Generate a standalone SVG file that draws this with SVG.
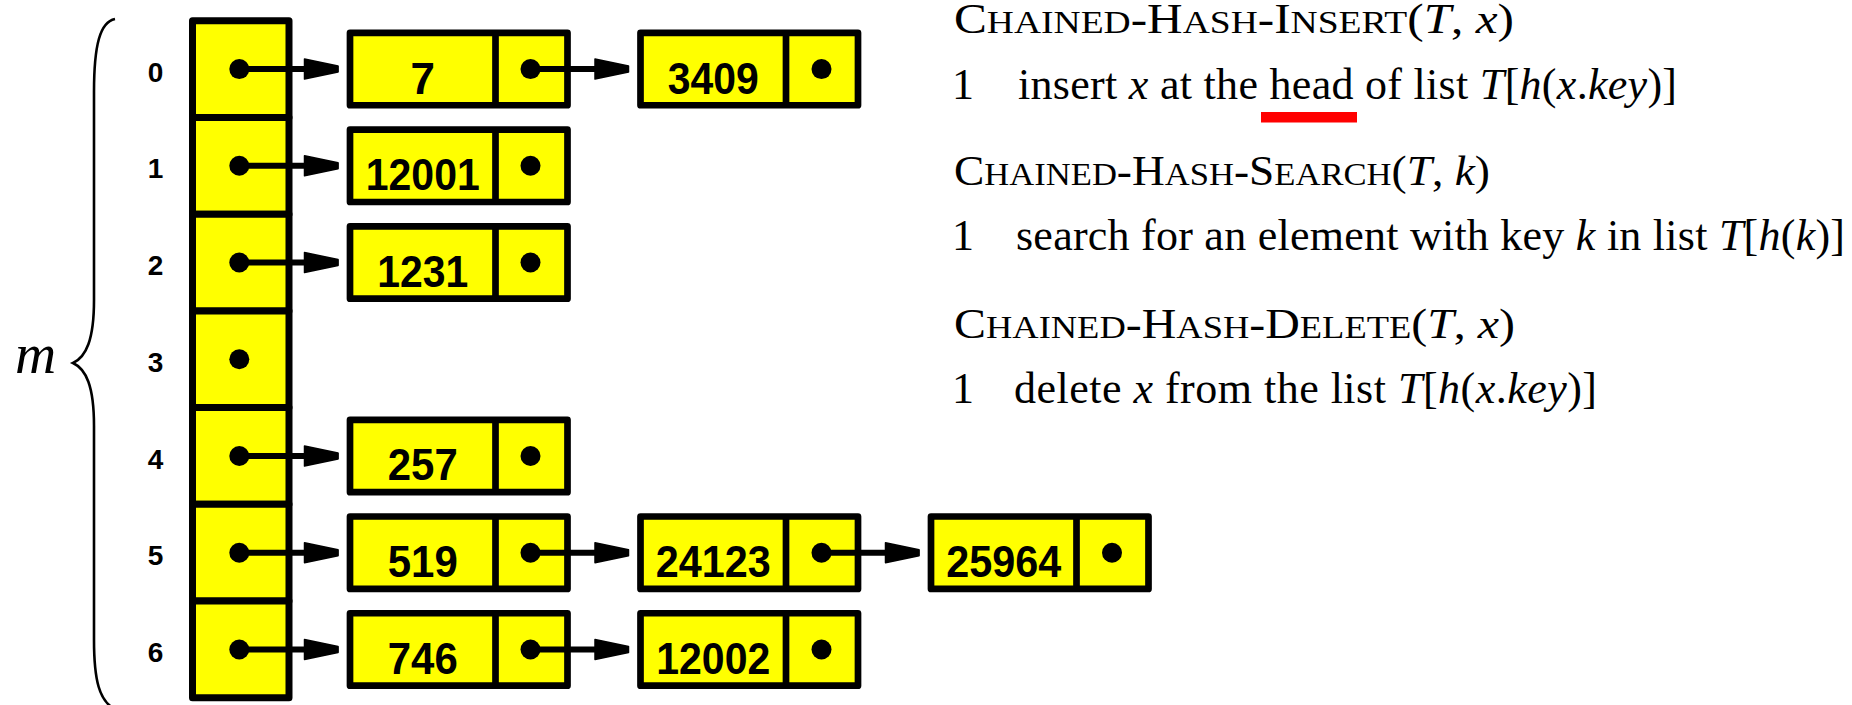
<svg xmlns="http://www.w3.org/2000/svg" width="1852" height="705" viewBox="0 0 1852 705">
  <defs>
    <style>
      .slot{fill:#ffff00;stroke:#000;stroke-width:7;stroke-linejoin:round}
      .cell{fill:#ffff00;stroke:#000;stroke-width:6.7;stroke-linejoin:round}
      .div{stroke:#000;stroke-width:6.7}
      .dot{fill:#000}
      .key{font-family:"Liberation Sans",Arial,sans-serif;font-weight:bold;font-size:44px;text-anchor:middle;fill:#000}
      .idx{font-family:"Liberation Sans",Arial,sans-serif;font-weight:bold;font-size:28px;text-anchor:middle;fill:#000}
      .link{fill:none;stroke:#000;stroke-width:6;marker-end:url(#head)}
      .serif{font-family:"Liberation Serif","Times New Roman",serif;fill:#000}
      .title{font-size:42px}
      .sc{font-size:32px}
      .body{font-size:44px}
      .it{font-style:italic}
    </style>
    <marker id="head" markerUnits="userSpaceOnUse" markerWidth="40" markerHeight="30" viewBox="-1 -15 40 30" refX="35" refY="0" orient="auto">
      <path d="M1,-10 L34.5,-3 L34.5,3 L1,10 Z" fill="#000" stroke="#000" stroke-width="1.5" stroke-linejoin="round"/>
    </marker>
  </defs>

  <rect width="1852" height="705" fill="#fff"/>

  <!-- brace and table size label -->
  <g id="size-label">
    <path d="M115,19 C100,22 94,45 94,92 L94,300 C94,340 86,357 73,363 C86,369 94,386 94,426 L94,640 C94,682 100,700 113,708" fill="none" stroke="#000" stroke-width="2.6"/>
    <text class="serif it" x="15" y="373" font-size="57">m</text>
  </g>

  <!-- hash table slots -->
  <g id="slot-0"><rect class="slot" x="192.5" y="20.7" width="96.5" height="96.73"/><circle class="dot" cx="239.3" cy="69.07" r="10"/><text class="idx" x="155.5" y="81.7">0</text></g>
  <g id="slot-1"><rect class="slot" x="192.5" y="117.43" width="96.5" height="96.73"/><circle class="dot" cx="239.3" cy="165.8" r="10"/><text class="idx" x="155.5" y="178.4">1</text></g>
  <g id="slot-2"><rect class="slot" x="192.5" y="214.16" width="96.5" height="96.73"/><circle class="dot" cx="239.3" cy="262.52" r="10"/><text class="idx" x="155.5" y="275.1">2</text></g>
  <g id="slot-3"><rect class="slot" x="192.5" y="310.89" width="96.5" height="96.73"/><circle class="dot" cx="239.3" cy="359.25" r="10"/><text class="idx" x="155.5" y="371.9">3</text></g>
  <g id="slot-4"><rect class="slot" x="192.5" y="407.62" width="96.5" height="96.73"/><circle class="dot" cx="239.3" cy="455.99" r="10"/><text class="idx" x="155.5" y="468.6">4</text></g>
  <g id="slot-5"><rect class="slot" x="192.5" y="504.35" width="96.5" height="96.73"/><circle class="dot" cx="239.3" cy="552.72" r="10"/><text class="idx" x="155.5" y="565.3">5</text></g>
  <g id="slot-6"><rect class="slot" x="192.5" y="601.08" width="96.5" height="96.73"/><circle class="dot" cx="239.3" cy="649.45" r="10"/><text class="idx" x="155.5" y="662.1">6</text></g>

  <!-- list elements: key cell + next-pointer cell -->
  <g id="node-7"><rect class="cell" x="350" y="32.87" width="217.5" height="72.4"/><line class="div" x1="495.5" y1="32.87" x2="495.5" y2="105.27"/><text class="key" x="422.75" y="93.57">7</text><circle class="dot" cx="530.5" cy="69.07" r="10"/></g>
  <g id="node-12001"><rect class="cell" x="350" y="129.6" width="217.5" height="72.4"/><line class="div" x1="495.5" y1="129.6" x2="495.5" y2="202"/><text class="key" x="422.75" y="190.3" textLength="114" lengthAdjust="spacingAndGlyphs">12001</text><circle class="dot" cx="530.5" cy="165.8" r="10"/></g>
  <g id="node-1231"><rect class="cell" x="350" y="226.32" width="217.5" height="72.4"/><line class="div" x1="495.5" y1="226.32" x2="495.5" y2="298.72"/><text class="key" x="422.75" y="287.02" textLength="91" lengthAdjust="spacingAndGlyphs">1231</text><circle class="dot" cx="530.5" cy="262.52" r="10"/></g>
  <g id="node-257"><rect class="cell" x="350" y="419.79" width="217.5" height="72.4"/><line class="div" x1="495.5" y1="419.79" x2="495.5" y2="492.19"/><text class="key" x="422.75" y="480.49" textLength="70" lengthAdjust="spacingAndGlyphs">257</text><circle class="dot" cx="530.5" cy="455.99" r="10"/></g>
  <g id="node-519"><rect class="cell" x="350" y="516.52" width="217.5" height="72.4"/><line class="div" x1="495.5" y1="516.52" x2="495.5" y2="588.92"/><text class="key" x="422.75" y="577.22" textLength="70" lengthAdjust="spacingAndGlyphs">519</text><circle class="dot" cx="530.5" cy="552.72" r="10"/></g>
  <g id="node-746"><rect class="cell" x="350" y="613.25" width="217.5" height="72.4"/><line class="div" x1="495.5" y1="613.25" x2="495.5" y2="685.65"/><text class="key" x="422.75" y="673.95" textLength="70" lengthAdjust="spacingAndGlyphs">746</text><circle class="dot" cx="530.5" cy="649.45" r="10"/></g>

  <g id="node-3409"><rect class="cell" x="640.5" y="32.87" width="217.5" height="72.4"/><line class="div" x1="786" y1="32.87" x2="786" y2="105.27"/><text class="key" x="713.25" y="93.57" textLength="91" lengthAdjust="spacingAndGlyphs">3409</text><circle class="dot" cx="821.5" cy="69.07" r="10"/></g>
  <g id="node-24123"><rect class="cell" x="640.5" y="516.52" width="217.5" height="72.4"/><line class="div" x1="786" y1="516.52" x2="786" y2="588.92"/><text class="key" x="713.25" y="577.22" textLength="115" lengthAdjust="spacingAndGlyphs">24123</text><circle class="dot" cx="821.5" cy="552.72" r="10"/></g>
  <g id="node-12002"><rect class="cell" x="640.5" y="613.25" width="217.5" height="72.4"/><line class="div" x1="786" y1="613.25" x2="786" y2="685.65"/><text class="key" x="713.25" y="673.95" textLength="114" lengthAdjust="spacingAndGlyphs">12002</text><circle class="dot" cx="821.5" cy="649.45" r="10"/></g>

  <g id="node-25964"><rect class="cell" x="931" y="516.52" width="217.5" height="72.4"/><line class="div" x1="1076.5" y1="516.52" x2="1076.5" y2="588.92"/><text class="key" x="1003.75" y="577.22" textLength="115" lengthAdjust="spacingAndGlyphs">25964</text><circle class="dot" cx="1112" cy="552.72" r="10"/></g>

  <!-- pointers -->
  <g id="connectors">
    <path class="link" d="M239.3,69.07 H338.5"/>
    <path class="link" d="M239.3,165.8 H338.5"/>
    <path class="link" d="M239.3,262.52 H338.5"/>
    <path class="link" d="M239.3,455.99 H338.5"/>
    <path class="link" d="M239.3,552.72 H338.5"/>
    <path class="link" d="M239.3,649.45 H338.5"/>
    <path class="link" d="M530.5,69.07 H629"/>
    <path class="link" d="M530.5,552.72 H629"/>
    <path class="link" d="M530.5,649.45 H629"/>
    <path class="link" d="M821.5,552.72 H919.5"/>
  </g>

  <!-- procedures -->
  <g id="procedures" class="serif">
    <text class="title" x="954" y="33.3" textLength="560" lengthAdjust="spacingAndGlyphs">C<tspan class="sc">HAINED</tspan>-H<tspan class="sc">ASH</tspan>-I<tspan class="sc">NSERT</tspan>(<tspan class="it">T</tspan>, <tspan class="it">x</tspan>)</text>
    <text class="body" x="952" y="98.5">1</text>
    <text class="body" x="1018" y="98.5" textLength="659">insert <tspan class="it">x</tspan> at the head of list <tspan class="it">T</tspan>[<tspan class="it">h</tspan>(<tspan class="it">x</tspan>.<tspan class="it">key</tspan>)]</text>
    <rect x="1261" y="112" width="96" height="10.5" fill="#ff0000"/>

    <text class="title" x="954" y="185" textLength="536" lengthAdjust="spacingAndGlyphs">C<tspan class="sc">HAINED</tspan>-H<tspan class="sc">ASH</tspan>-S<tspan class="sc">EARCH</tspan>(<tspan class="it">T</tspan>, <tspan class="it">k</tspan>)</text>
    <text class="body" x="952" y="250">1</text>
    <text class="body" x="1016" y="250" textLength="829">search for an element with key <tspan class="it">k</tspan> in list <tspan class="it">T</tspan>[<tspan class="it">h</tspan>(<tspan class="it">k</tspan>)]</text>

    <text class="title" x="954" y="338" textLength="561" lengthAdjust="spacingAndGlyphs">C<tspan class="sc">HAINED</tspan>-H<tspan class="sc">ASH</tspan>-D<tspan class="sc">ELETE</tspan>(<tspan class="it">T</tspan>, <tspan class="it">x</tspan>)</text>
    <text class="body" x="952" y="403">1</text>
    <text class="body" x="1014" y="403" textLength="583">delete <tspan class="it">x</tspan> from the list <tspan class="it">T</tspan>[<tspan class="it">h</tspan>(<tspan class="it">x</tspan>.<tspan class="it">key</tspan>)]</text>
  </g>
</svg>
